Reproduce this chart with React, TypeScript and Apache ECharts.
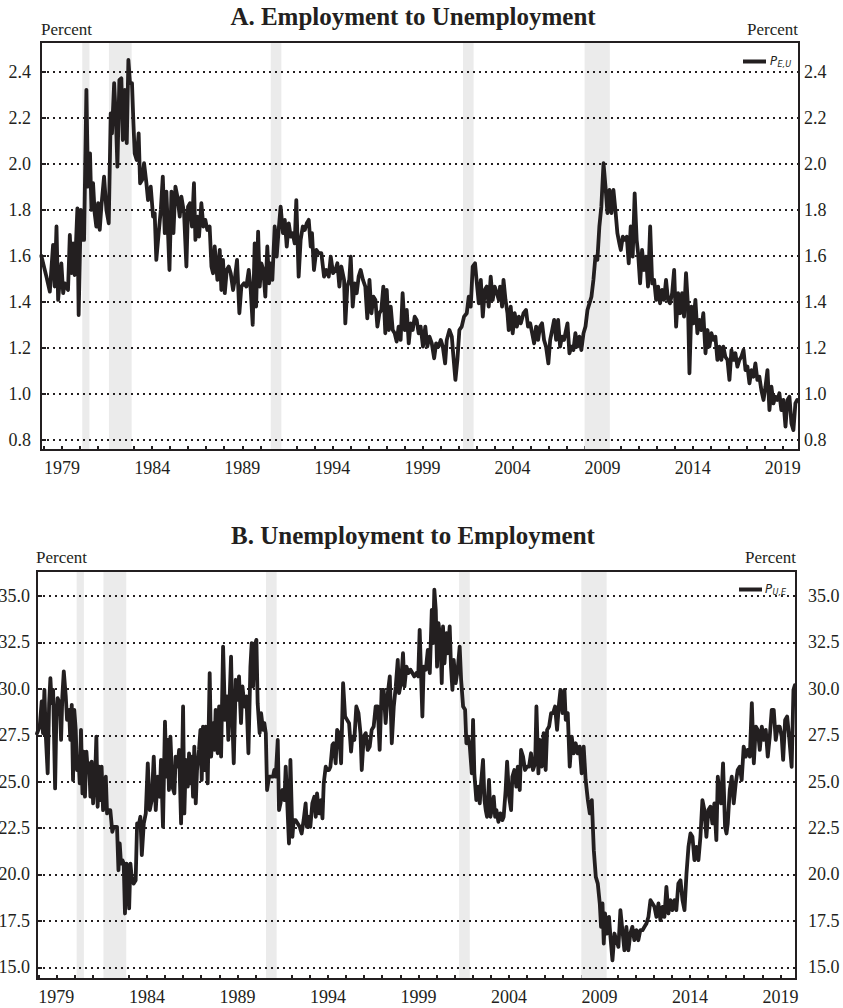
import React, { useEffect, useRef } from "react";
import * as echarts from "echarts";

const INK = "#231f20";
const SHADE = "#ebebeb";
const SERIF = '"Liberation Serif", "Times New Roman", serif';
const NARROW = '"Liberation Sans Narrow", "DejaVu Sans Condensed", "Noto Sans", sans-serif';

// NBER recession bands (decimal years)
const recessionStarts = [1980.12, 1981.6, 1990.58, 2001.25, 2008.0];
const recessionEnds = [1980.52, 1982.86, 1991.17, 2001.84, 2009.4];

const yTicksA = [0.8, 1.0, 1.2, 1.4, 1.6, 1.8, 2.0, 2.2, 2.4];
const yTicksB = [15, 17.5, 20, 22.5, 25, 27.5, 30, 32.5, 35];
const yearTicks = [1978, 1979, 1980, 1981, 1982, 1983, 1984, 1985, 1986, 1987, 1988, 1989, 1990, 1991, 1992, 1993, 1994, 1995, 1996, 1997, 1998, 1999, 2000, 2001, 2002, 2003, 2004, 2005, 2006, 2007, 2008, 2009, 2010, 2011, 2012, 2013, 2014, 2015, 2016, 2017, 2018, 2019];
const yearLabels = [1979, 1984, 1989, 1994, 1999, 2004, 2009, 2014, 2019];

// Panel A: employment to unemployment transition rate, percent [year, value]
const peuData: [number, number][] = [
  [1977.85, 1.6], [1978.13, 1.51], [1978.32, 1.445], [1978.5, 1.648], [1978.59, 1.467], [1978.69, 1.728], [1978.78, 1.409], [1978.96, 1.568], [1979.06, 1.438], [1979.15, 1.481], [1979.33, 1.452], [1979.43, 1.691], [1979.52, 1.525], [1979.61, 1.655], [1979.7, 1.517], [1979.85, 1.807], [1979.92, 1.343],
  [1980.04, 1.8], [1980.11, 1.67], [1980.22, 1.67], [1980.35, 2.322], [1980.44, 1.901], [1980.55, 2.046], [1980.63, 1.8], [1980.72, 1.916], [1980.81, 1.786], [1980.9, 1.728], [1981.0, 1.829], [1981.09, 1.713], [1981.18, 1.814], [1981.33, 1.945], [1981.46, 1.8], [1981.59, 1.742], [1981.7, 2.22], [1981.77, 2.133], [1981.89, 2.351], [1981.99, 2.191],
  [1982.07, 1.988], [1982.18, 2.365], [1982.29, 2.372], [1982.37, 2.104], [1982.48, 2.322], [1982.59, 2.09], [1982.68, 2.452], [1982.77, 2.351], [1982.88, 2.351], [1982.96, 2.177], [1983.03, 2.046], [1983.14, 2.017], [1983.25, 2.133], [1983.33, 1.916], [1983.44, 1.93], [1983.55, 2.003], [1983.68, 1.916], [1983.77, 1.843], [1983.92, 1.901],
  [1984.05, 1.771], [1984.14, 1.786], [1984.23, 1.583], [1984.36, 1.699], [1984.48, 1.8], [1984.59, 1.945], [1984.7, 1.699], [1984.79, 1.88], [1984.88, 1.699], [1984.96, 1.539], [1985.07, 1.88], [1985.18, 1.699], [1985.29, 1.901], [1985.4, 1.858], [1985.53, 1.771], [1985.62, 1.858], [1985.77, 1.786], [1985.9, 1.554], [1985.99, 1.814],
  [1986.1, 1.829], [1986.21, 1.728], [1986.32, 1.916], [1986.4, 1.67], [1986.51, 1.771], [1986.6, 1.684], [1986.73, 1.829], [1986.84, 1.728], [1986.95, 1.757], [1987.06, 1.713], [1987.19, 1.728], [1987.29, 1.554], [1987.38, 1.525], [1987.47, 1.641], [1987.62, 1.496], [1987.75, 1.626], [1987.84, 1.452], [1987.93, 1.583],
  [1988.03, 1.438], [1988.14, 1.539], [1988.25, 1.554], [1988.36, 1.525], [1988.49, 1.452], [1988.58, 1.496], [1988.71, 1.583], [1988.84, 1.351], [1988.95, 1.467], [1989.1, 1.481], [1989.23, 1.467], [1989.36, 1.539], [1989.47, 1.452], [1989.58, 1.3], [1989.69, 1.655], [1989.77, 1.38], [1989.88, 1.706], [1989.97, 1.467],
  [1990.06, 1.568], [1990.17, 1.539], [1990.28, 1.423], [1990.39, 1.641], [1990.49, 1.481], [1990.58, 1.568], [1990.67, 1.496], [1990.8, 1.728], [1990.91, 1.597], [1991.02, 1.713], [1991.13, 1.814], [1991.26, 1.699], [1991.36, 1.757], [1991.47, 1.641], [1991.58, 1.742], [1991.69, 1.684], [1991.8, 1.699], [1991.91, 1.655],
  [1992.0, 1.843], [1992.13, 1.51], [1992.24, 1.67], [1992.36, 1.728], [1992.47, 1.713], [1992.58, 1.742], [1992.69, 1.757], [1992.8, 1.641], [1992.87, 1.699], [1992.98, 1.539], [1993.11, 1.626], [1993.24, 1.612], [1993.39, 1.612], [1993.54, 1.51], [1993.67, 1.539], [1993.8, 1.51], [1993.91, 1.597],
  [1994.04, 1.525], [1994.17, 1.539], [1994.28, 1.568], [1994.39, 1.467], [1994.5, 1.554], [1994.65, 1.496], [1994.72, 1.307], [1994.83, 1.467], [1994.94, 1.496], [1995.02, 1.597], [1995.13, 1.38], [1995.24, 1.481], [1995.35, 1.438], [1995.46, 1.51], [1995.57, 1.539], [1995.7, 1.496], [1995.83, 1.467], [1995.94, 1.329],
  [1996.06, 1.496], [1996.17, 1.351], [1996.28, 1.423], [1996.39, 1.409], [1996.5, 1.293], [1996.61, 1.351], [1996.72, 1.365], [1996.83, 1.467], [1996.94, 1.264], [1997.02, 1.452], [1997.13, 1.278], [1997.24, 1.38], [1997.35, 1.278], [1997.46, 1.264], [1997.57, 1.228], [1997.68, 1.293], [1997.79, 1.235], [1997.9, 1.438],
  [1998.02, 1.278], [1998.13, 1.365], [1998.24, 1.22], [1998.35, 1.307], [1998.46, 1.278], [1998.57, 1.336], [1998.68, 1.322], [1998.79, 1.264], [1998.9, 1.293], [1999.03, 1.206], [1999.16, 1.293], [1999.27, 1.206], [1999.39, 1.249], [1999.52, 1.22], [1999.65, 1.155], [1999.76, 1.22], [1999.89, 1.206],
  [2000.02, 1.235], [2000.13, 1.206], [2000.26, 1.133], [2000.35, 1.235], [2000.5, 1.278], [2000.63, 1.249], [2000.72, 1.162], [2000.83, 1.061], [2000.94, 1.148], [2001.05, 1.278], [2001.18, 1.293], [2001.31, 1.336], [2001.46, 1.351], [2001.57, 1.423], [2001.68, 1.38], [2001.79, 1.554], [2001.92, 1.568],
  [2002.02, 1.481], [2002.13, 1.394], [2002.24, 1.496], [2002.35, 1.336], [2002.46, 1.452], [2002.57, 1.467], [2002.68, 1.38], [2002.79, 1.51], [2002.9, 1.409], [2003.01, 1.467], [2003.13, 1.438], [2003.24, 1.409], [2003.31, 1.467], [2003.42, 1.38], [2003.5, 1.496], [2003.61, 1.409], [2003.72, 1.351], [2003.79, 1.278], [2003.9, 1.38],
  [2004.01, 1.264], [2004.12, 1.351], [2004.24, 1.293], [2004.35, 1.336], [2004.46, 1.307], [2004.61, 1.351], [2004.75, 1.365], [2004.86, 1.293], [2004.98, 1.307], [2005.09, 1.264], [2005.2, 1.22], [2005.31, 1.293], [2005.42, 1.235], [2005.53, 1.293], [2005.64, 1.307], [2005.75, 1.235], [2005.86, 1.206], [2005.99, 1.133],
  [2006.09, 1.235], [2006.2, 1.278], [2006.31, 1.322], [2006.42, 1.235], [2006.53, 1.322], [2006.64, 1.206], [2006.75, 1.249], [2006.86, 1.235], [2006.97, 1.278], [2007.05, 1.307], [2007.16, 1.177], [2007.27, 1.206], [2007.38, 1.191], [2007.49, 1.264], [2007.6, 1.206], [2007.71, 1.249], [2007.82, 1.191], [2007.94, 1.264],
  [2008.05, 1.293], [2008.16, 1.365], [2008.27, 1.394], [2008.38, 1.423], [2008.49, 1.496], [2008.6, 1.597], [2008.71, 1.583], [2008.82, 1.728], [2008.93, 1.814], [2009.05, 2.003], [2009.16, 1.901], [2009.27, 1.786], [2009.38, 1.887], [2009.49, 1.786], [2009.6, 1.887], [2009.71, 1.8], [2009.82, 1.699], [2009.93, 1.655],
  [2010.01, 1.626], [2010.12, 1.684], [2010.23, 1.67], [2010.34, 1.684], [2010.45, 1.568], [2010.56, 1.728], [2010.67, 1.597], [2010.78, 1.872], [2010.89, 1.67], [2010.97, 1.612], [2011.08, 1.481], [2011.19, 1.626], [2011.3, 1.539], [2011.41, 1.597], [2011.52, 1.467], [2011.64, 1.728], [2011.75, 1.481], [2011.86, 1.496], [2011.97, 1.409],
  [2012.08, 1.467], [2012.19, 1.394], [2012.3, 1.452], [2012.41, 1.409], [2012.52, 1.496], [2012.63, 1.409], [2012.74, 1.394], [2012.86, 1.438], [2012.97, 1.539], [2013.08, 1.293], [2013.19, 1.438], [2013.3, 1.351], [2013.41, 1.438], [2013.52, 1.336], [2013.63, 1.525], [2013.74, 1.38], [2013.82, 1.09], [2013.93, 1.38],
  [2014.04, 1.307], [2014.15, 1.409], [2014.26, 1.264], [2014.37, 1.322], [2014.48, 1.278], [2014.59, 1.351], [2014.71, 1.177], [2014.82, 1.278], [2014.93, 1.206], [2015.04, 1.264], [2015.15, 1.235], [2015.26, 1.249], [2015.37, 1.148], [2015.48, 1.206], [2015.59, 1.148], [2015.7, 1.206], [2015.81, 1.162], [2015.93, 1.148],
  [2016.04, 1.061], [2016.15, 1.191], [2016.26, 1.148], [2016.37, 1.177], [2016.48, 1.119], [2016.59, 1.148], [2016.7, 1.162], [2016.82, 1.191], [2016.93, 1.104], [2017.04, 1.119], [2017.15, 1.046], [2017.26, 1.104], [2017.37, 1.075], [2017.48, 1.133], [2017.59, 1.061], [2017.7, 1.075], [2017.81, 1.017], [2017.93, 0.974],
  [2018.04, 1.032], [2018.15, 1.104], [2018.26, 0.93], [2018.37, 1.032], [2018.48, 0.959], [2018.59, 0.988], [2018.7, 0.974], [2018.81, 1.003], [2018.92, 0.93], [2019.03, 0.974], [2019.15, 0.858], [2019.26, 0.974], [2019.37, 0.988], [2019.48, 0.872], [2019.59, 0.843], [2019.7, 0.959], [2019.8, 0.974],
];

// Panel B: unemployment to employment transition rate, percent [year, value]
const pueData: [number, number][] = [
  [1977.93, 27.6], [1978.08, 27.97], [1978.19, 29.32], [1978.26, 27.61], [1978.34, 29.95], [1978.41, 27.61], [1978.52, 25.45], [1978.6, 29.23], [1978.67, 30.58], [1978.74, 29.23], [1978.82, 29.95], [1978.93, 24.64], [1979.0, 28.51], [1979.07, 29.5], [1979.19, 29.23], [1979.26, 27.25], [1979.33, 29.59], [1979.41, 30.94], [1979.52, 29.59], [1979.59, 28.33], [1979.7, 28.87], [1979.77, 27.25], [1979.85, 29.14], [1979.92, 25.09], [1979.99, 28.87],
  [1980.07, 27.79], [1980.14, 25.63], [1980.22, 26.35], [1980.29, 24.91], [1980.36, 27.79], [1980.44, 24.37], [1980.51, 26.62], [1980.58, 24.19], [1980.66, 26.62], [1980.73, 25.63], [1980.81, 25.99], [1980.88, 24.19], [1980.95, 26.08], [1981.03, 23.83], [1981.14, 25.27], [1981.21, 27.43], [1981.28, 23.65], [1981.36, 25.81], [1981.43, 24.01], [1981.5, 25.81], [1981.58, 23.47], [1981.65, 23.83], [1981.73, 25.27], [1981.8, 23.29], [1981.87, 23.47], [1981.98, 23.47],
  [1982.09, 22.3], [1982.17, 22.57], [1982.28, 22.57], [1982.35, 22.57], [1982.43, 20.23], [1982.5, 21.67], [1982.57, 20.59], [1982.65, 20.77], [1982.72, 20.59], [1982.79, 17.9], [1982.87, 20.59], [1982.94, 20.41], [1983.02, 18.17], [1983.09, 20.59], [1983.16, 19.87], [1983.27, 19.51], [1983.38, 19.69], [1983.46, 22.75], [1983.57, 22.75], [1983.64, 23.11], [1983.72, 21.04], [1983.83, 22.75], [1983.94, 23.29],
  [1984.05, 25.99], [1984.16, 23.47], [1984.27, 24.01], [1984.38, 26.35], [1984.49, 23.47], [1984.6, 25.27], [1984.71, 24.19], [1984.78, 26.17], [1984.89, 22.57], [1985.0, 28.24], [1985.08, 25.27], [1985.15, 27.25], [1985.22, 24.55], [1985.3, 27.43], [1985.41, 24.73], [1985.52, 24.37], [1985.59, 26.35], [1985.7, 25.81], [1985.78, 26.71], [1985.89, 22.75],
  [1986.0, 29.05], [1986.07, 23.29], [1986.15, 26.17], [1986.26, 24.73], [1986.33, 26.53], [1986.4, 24.91], [1986.48, 26.35], [1986.55, 24.19], [1986.62, 26.89], [1986.7, 23.83], [1986.77, 25.63], [1986.88, 26.71], [1986.96, 27.79], [1987.03, 25.09], [1987.1, 27.97], [1987.18, 25.63], [1987.25, 27.97], [1987.36, 24.91], [1987.47, 30.85], [1987.55, 26.35], [1987.66, 28.15], [1987.73, 26.71], [1987.8, 28.87], [1987.91, 26.53], [1987.99, 29.05],
  [1988.1, 26.35], [1988.21, 32.28], [1988.32, 28.33], [1988.43, 29.59], [1988.5, 27.25], [1988.58, 29.77], [1988.65, 31.74], [1988.72, 28.33], [1988.8, 25.99], [1988.91, 30.49], [1989.02, 29.41], [1989.09, 30.67], [1989.2, 28.15], [1989.28, 30.13], [1989.39, 29.05], [1989.5, 29.59], [1989.61, 26.53], [1989.72, 31.2], [1989.79, 32.46], [1989.87, 30.13], [1989.94, 32.28],
  [1990.05, 32.64], [1990.12, 29.23], [1990.23, 27.61], [1990.31, 28.69], [1990.42, 27.79], [1990.49, 28.15], [1990.57, 27.61], [1990.64, 24.55], [1990.75, 25.27], [1990.86, 25.27], [1990.97, 25.27], [1991.04, 25.63], [1991.12, 25.27], [1991.23, 27.25], [1991.3, 23.47], [1991.38, 23.83], [1991.49, 24.55], [1991.6, 24.01], [1991.67, 25.81], [1991.74, 24.19], [1991.85, 21.67], [1991.93, 26.17],
  [1992.04, 22.03], [1992.11, 22.93], [1992.22, 22.93], [1992.33, 22.75], [1992.44, 22.57], [1992.55, 22.21], [1992.66, 22.93], [1992.77, 23.83], [1992.84, 22.57], [1992.96, 23.11], [1993.03, 22.57], [1993.14, 23.83], [1993.25, 24.19], [1993.33, 23.11], [1993.4, 24.37], [1993.51, 23.29], [1993.62, 24.01], [1993.7, 23.02], [1993.77, 24.91], [1993.88, 25.81], [1993.95, 25.63],
  [1994.06, 25.63], [1994.14, 25.81], [1994.25, 26.98], [1994.32, 27.07], [1994.43, 25.99], [1994.51, 27.79], [1994.62, 27.61], [1994.73, 25.99], [1994.84, 30.31], [1994.95, 28.51], [1995.06, 28.33], [1995.17, 28.15], [1995.28, 26.62], [1995.35, 27.43], [1995.46, 27.25], [1995.57, 29.05], [1995.69, 28.69], [1995.8, 27.61], [1995.87, 25.63], [1995.98, 27.43],
  [1996.09, 27.61], [1996.2, 26.71], [1996.31, 26.89], [1996.42, 27.79], [1996.53, 27.97], [1996.64, 29.05], [1996.75, 29.05], [1996.86, 26.71], [1996.97, 29.95], [1997.08, 29.95], [1997.19, 28.15], [1997.31, 29.77], [1997.42, 30.67], [1997.53, 27.07], [1997.64, 29.05], [1997.75, 30.13], [1997.86, 31.56], [1997.93, 29.77],
  [1998.04, 30.31], [1998.15, 31.92], [1998.23, 30.13], [1998.34, 31.2], [1998.45, 30.85], [1998.56, 31.03], [1998.67, 30.85], [1998.77, 30.67], [1998.89, 30.85], [1998.99, 30.67], [1999.07, 33.18], [1999.22, 28.51], [1999.29, 31.2], [1999.41, 31.03], [1999.52, 32.1], [1999.63, 30.85], [1999.74, 34.26], [1999.81, 32.46], [1999.88, 35.34], [1999.96, 34.26],
  [2000.03, 31.2], [2000.11, 33.54], [2000.22, 32.64], [2000.29, 30.31], [2000.36, 33.36], [2000.44, 31.38], [2000.55, 33.0], [2000.62, 31.92], [2000.73, 33.36], [2000.8, 31.2], [2000.88, 29.95], [2000.95, 31.56], [2001.06, 30.31], [2001.17, 31.03], [2001.28, 32.28], [2001.36, 30.49], [2001.47, 29.05], [2001.58, 28.87], [2001.65, 27.07], [2001.73, 27.43], [2001.84, 26.89], [2001.95, 25.45],
  [2002.02, 28.33], [2002.09, 25.45], [2002.2, 24.01], [2002.31, 24.73], [2002.39, 23.83], [2002.46, 24.91], [2002.57, 26.17], [2002.65, 24.01], [2002.72, 23.47], [2002.79, 23.11], [2002.9, 25.09], [2002.98, 23.11], [2003.05, 23.47], [2003.16, 24.19], [2003.24, 23.11], [2003.31, 23.47], [2003.42, 22.84], [2003.53, 23.29], [2003.64, 22.93], [2003.71, 23.11], [2003.82, 24.55], [2003.9, 26.08],
  [2004.01, 24.19], [2004.12, 23.47], [2004.19, 25.27], [2004.3, 25.63], [2004.41, 24.73], [2004.49, 25.81], [2004.6, 24.55], [2004.67, 26.71], [2004.78, 26.35], [2004.89, 25.63], [2005.0, 25.81], [2005.11, 25.81], [2005.22, 26.53], [2005.33, 25.63], [2005.45, 25.99], [2005.52, 29.05], [2005.63, 25.45], [2005.7, 27.25], [2005.81, 25.81], [2005.92, 27.61],
  [2006.03, 25.63], [2006.11, 27.79], [2006.22, 27.97], [2006.33, 28.69], [2006.44, 28.69], [2006.55, 29.05], [2006.66, 27.79], [2006.77, 29.23], [2006.85, 29.95], [2006.96, 28.69], [2007.07, 29.95], [2007.14, 28.33], [2007.25, 28.69], [2007.36, 25.81], [2007.47, 27.43], [2007.58, 26.53], [2007.69, 27.07], [2007.8, 26.53], [2007.91, 26.89],
  [2008.02, 25.45], [2008.13, 26.89], [2008.24, 25.09], [2008.36, 24.01], [2008.47, 23.29], [2008.58, 24.01], [2008.69, 21.31], [2008.8, 19.87], [2008.91, 19.51], [2009.02, 18.44], [2009.09, 17.18], [2009.17, 18.44], [2009.24, 16.28], [2009.31, 17.9], [2009.42, 16.82], [2009.53, 17.72], [2009.61, 16.64], [2009.72, 15.38], [2009.83, 16.82], [2009.94, 16.46],
  [2010.05, 16.1], [2010.16, 18.08], [2010.27, 17.0], [2010.38, 15.92], [2010.49, 17.18], [2010.6, 15.92], [2010.71, 16.82], [2010.82, 17.18], [2010.93, 16.46], [2011.04, 17.0], [2011.15, 16.46], [2011.26, 17.0], [2011.38, 17.0], [2011.49, 17.18], [2011.6, 17.36], [2011.71, 17.72], [2011.82, 18.62], [2011.93, 18.44],
  [2012.04, 18.26], [2012.15, 17.72], [2012.26, 18.44], [2012.37, 17.54], [2012.48, 18.26], [2012.59, 17.72], [2012.7, 19.33], [2012.81, 17.9], [2012.92, 18.62], [2013.03, 18.08], [2013.14, 18.62], [2013.25, 18.08], [2013.36, 19.51], [2013.48, 19.69], [2013.59, 18.62], [2013.7, 18.08], [2013.81, 20.05], [2013.92, 21.49],
  [2014.03, 22.21], [2014.14, 22.03], [2014.25, 20.77], [2014.36, 21.49], [2014.47, 20.77], [2014.58, 22.03], [2014.69, 24.01], [2014.8, 23.47], [2014.91, 22.03], [2015.02, 23.47], [2015.13, 23.65], [2015.24, 22.75], [2015.35, 23.83], [2015.46, 21.85], [2015.54, 25.27], [2015.61, 24.55], [2015.72, 23.83], [2015.83, 25.99], [2015.94, 22.57],
  [2016.02, 22.21], [2016.09, 22.75], [2016.2, 24.55], [2016.31, 25.27], [2016.42, 23.83], [2016.53, 24.91], [2016.64, 25.63], [2016.75, 25.81], [2016.86, 25.09], [2016.97, 26.89], [2017.08, 26.35], [2017.19, 26.71], [2017.31, 26.35], [2017.42, 29.23], [2017.53, 25.99], [2017.64, 27.97], [2017.75, 27.79], [2017.86, 26.71], [2017.97, 27.97],
  [2018.08, 27.25], [2018.19, 27.79], [2018.3, 26.35], [2018.41, 27.43], [2018.52, 28.87], [2018.63, 28.87], [2018.74, 27.25], [2018.85, 27.97], [2018.96, 27.97], [2019.07, 27.43], [2019.15, 26.17], [2019.26, 28.33], [2019.37, 28.51], [2019.48, 27.43], [2019.62, 25.8], [2019.72, 29.95], [2019.8, 30.2],
];

const panels = [
  { title: "A. Employment to Unemployment", data: peuData, yTicks: yTicksA, xMin: 1977.83, xMax: 2019.9, yMin: 0.7565, yMax: 2.53, grid: { left: 41, top: 42, width: 758, height: 408 }, leftMargin: 10, rightMargin: 5, decimals: 1 },
  { title: "B. Unemployment to Employment", data: pueData, yTicks: yTicksB, xMin: 1977.93, xMax: 2019.86, yMin: 14.37, yMax: 36.35, grid: { left: 37, top: 571, width: 759, height: 408 }, leftMargin: 7, rightMargin: 12, decimals: 1 },
];

const recessionData = recessionStarts.map((s, i) => [s, recessionEnds[i]]);

function buildOption() {
  const labelStyle = { fontFamily: SERIF, fontSize: 18, color: INK };
  const grid: any[] = [];
  const xAxis: any[] = [];
  const yAxis: any[] = [];
  const series: any[] = [];
  panels.forEach((p, i) => {
    grid.push({ ...p.grid, show: true, borderColor: INK, borderWidth: 2, backgroundColor: "transparent", containLabel: false, outerBoundsMode: "none" });
    xAxis.push({
      type: "value", gridIndex: i, min: p.xMin, max: p.xMax,
      axisLine: { show: true, onZero: false, lineStyle: { color: INK, width: 2 } },
      axisTick: { show: true, inside: true, length: 4, lineStyle: { color: INK, width: 2 }, customValues: yearTicks },
      axisLabel: { ...labelStyle, margin: 9, customValues: yearLabels, formatter: (v: number) => String(Math.round(v)) },
      splitLine: { show: false },
    });
    yAxis.push({
      type: "value", gridIndex: i, position: "left", min: p.yMin, max: p.yMax,
      axisLine: { show: true, onZero: false, lineStyle: { color: INK, width: 2 } },
      axisTick: { show: true, inside: true, length: 5, lineStyle: { color: INK, width: 2 }, customValues: p.yTicks },
      axisLabel: { ...labelStyle, margin: p.leftMargin, customValues: p.yTicks, formatter: (v: number) => v.toFixed(p.decimals) },
      splitLine: { show: false },
    });
    yAxis.push({
      type: "value", gridIndex: i, position: "right", min: p.yMin, max: p.yMax,
      axisLine: { show: false }, axisTick: { show: false },
      axisLabel: { ...labelStyle, margin: p.rightMargin, customValues: p.yTicks, formatter: (v: number) => v.toFixed(p.decimals) },
      splitLine: { show: false },
    });
    series.push({
      type: "custom", xAxisIndex: i, yAxisIndex: i * 2, data: recessionData, silent: true, z: 1,
      renderItem: (params: any, api: any) => {
        const cs = params.coordSys;
        const a = api.coord([api.value(0), p.yMin])[0];
        const b = api.coord([api.value(1), p.yMin])[0];
        return { type: "rect", shape: { x: a, y: cs.y + 1, width: b - a, height: cs.height - 2 }, style: { fill: SHADE } };
      },
    });
    series.push({
      type: "line", xAxisIndex: i, yAxisIndex: i * 2, data: p.data, symbol: "none", showSymbol: false, silent: true, z: 3, clip: true,
      lineStyle: { color: INK, width: 3.8, join: "round", cap: "round" }, itemStyle: { color: INK },
      markLine: {
        silent: true, symbol: ["none", "none"], label: { show: false }, animation: false,
        lineStyle: { color: INK, type: [2, 4], width: 2 }, emphasis: { disabled: true },
        data: p.yTicks.map((v) => ({ yAxis: v })),
      },
    });
  });

  const graphic: any[] = [
    { type: "text", x: 413, y: 16, style: { text: panels[0].title, fontFamily: SERIF, fontWeight: "bold", fontSize: 25, fill: INK, align: "center", verticalAlign: "middle" } },
    { type: "text", x: 413, y: 535, style: { text: panels[1].title, fontFamily: SERIF, fontWeight: "bold", fontSize: 25, fill: INK, align: "center", verticalAlign: "middle" } },
    { type: "text", x: 41, y: 29, style: { text: "Percent", fontFamily: SERIF, fontSize: 17, fill: INK, align: "left", verticalAlign: "middle" } },
    { type: "text", x: 798, y: 29, style: { text: "Percent", fontFamily: SERIF, fontSize: 17, fill: INK, align: "right", verticalAlign: "middle" } },
    { type: "text", x: 36, y: 557, style: { text: "Percent", fontFamily: SERIF, fontSize: 17, fill: INK, align: "left", verticalAlign: "middle" } },
    { type: "text", x: 796, y: 557, style: { text: "Percent", fontFamily: SERIF, fontSize: 17, fill: INK, align: "right", verticalAlign: "middle" } },
    // legend A
    { type: "line", shape: { x1: 743, y1: 61.5, x2: 766, y2: 61.5 }, style: { stroke: INK, lineWidth: 4 }, z: 10 },
    { type: "text", x: 770, y: 60, style: { text: "P", fontFamily: NARROW, fontStyle: "italic", fontSize: 13, fill: INK, align: "left", verticalAlign: "middle" }, z: 10 },
    { type: "text", x: 777.5, y: 63.5, style: { text: "E,U", fontFamily: NARROW, fontStyle: "italic", fontSize: 9, fill: INK, align: "left", verticalAlign: "middle" }, z: 10 },
    // legend B
    { type: "line", shape: { x1: 739, y1: 589.5, x2: 762, y2: 589.5 }, style: { stroke: INK, lineWidth: 4 }, z: 10 },
    { type: "text", x: 765, y: 588.5, style: { text: "P", fontFamily: NARROW, fontStyle: "italic", fontSize: 13, fill: INK, align: "left", verticalAlign: "middle" }, z: 10 },
    { type: "text", x: 772.5, y: 592, style: { text: "U,E", fontFamily: NARROW, fontStyle: "italic", fontSize: 9, fill: INK, align: "left", verticalAlign: "middle" }, z: 10 },
  ];

  return {
    animation: false,
    backgroundColor: "#ffffff",
    textStyle: { fontFamily: SERIF },
    grid, xAxis, yAxis, series, graphic,
  };
}

export default function App() {
  const ref = useRef<HTMLDivElement | null>(null);
  useEffect(() => {
    if (!ref.current) return;
    const chart = echarts.init(ref.current, null, { renderer: "svg" });
    chart.setOption(buildOption() as any);
    return () => chart.dispose();
  }, []);
  return <div ref={ref} style={{ position: "absolute", left: 0, top: 0, width: 843, height: 1008 }} />;
}
